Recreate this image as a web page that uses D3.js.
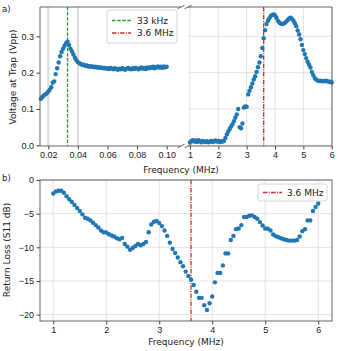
<!DOCTYPE html>
<html>
<head>
<meta charset="utf-8">
<script src="https://cdn.jsdelivr.net/npm/d3@7"></script>
<style>
  html, body { margin: 0; padding: 0; background: #fff; }
  svg { display: block; font-family: "DejaVu Sans", sans-serif; }
  .tick text { font-size: 9px; fill: #222; }
  .tick line { stroke: #444; }
</style>
</head>
<body>
<svg id="chart" width="339" height="351"></svg>
<script>
// --- data ---
// top-left: low frequency sweep (kHz -> Vpp)
const lowFreqKHz = [15,16,17,18,19,20,21,22,23,24,25,26,27,28,29,30,31,32,33,34,35,36,37,38,39,40,
  41,42,43,44,45,46,47,48,49,50,51,52,53,54,55,56,57,58,59,60,61,62,63,64,65,66,67,68,69,70,
  71,72,73,74,75,76,77,78,79,80,81,82,83,84,85,86,87,88,89,90,91,92,93,94,95,96,97,98,99,100];
const lowVolt = [0.128,0.133,0.137,0.140,0.143,0.148,0.153,0.160,0.172,0.176,0.196,0.212,0.228,0.245,0.257,0.266,0.274,0.281,0.285,0.276,
  0.266,0.258,0.250,0.241,0.234,0.229,0.226,0.224,0.221,0.222,0.219,0.220,0.217,0.218,0.216,0.217,0.215,0.216,0.214,0.215,
  0.213,0.214,0.212,0.213,0.211,0.212,0.210,0.213,0.211,0.209,0.212,0.210,0.208,0.211,0.209,0.212,0.210,0.208,0.211,0.213,
  0.210,0.209,0.212,0.210,0.213,0.211,0.209,0.212,0.214,0.211,0.213,0.210,0.214,0.212,0.215,0.213,0.216,0.212,0.215,0.217,
  0.214,0.216,0.213,0.217,0.215,0.216];

// MHz sweep shared by top-right and bottom panels
const freqMHz = [1.00,1.05,1.10,1.15,1.20,1.25,1.30,1.35,1.40,1.45,1.50,1.55,1.60,1.65,1.70,1.75,1.80,1.85,1.90,1.95,
  2.00,2.05,2.10,2.15,2.20,2.25,2.30,2.35,2.40,2.45,2.50,2.55,2.60,2.65,2.70,2.75,2.80,2.85,2.90,2.95,
  3.00,3.05,3.10,3.15,3.20,3.25,3.30,3.35,3.40,3.45,3.50,3.55,3.60,3.65,3.70,3.75,3.80,3.85,3.90,3.95,
  4.00,4.05,4.10,4.15,4.20,4.25,4.30,4.35,4.40,4.45,4.50,4.55,4.60,4.65,4.70,4.75,4.80,4.85,4.90,4.95,
  5.00,5.05,5.10,5.15,5.20,5.25,5.30,5.35,5.40,5.45,5.50,5.55,5.60,5.65,5.70,5.75,5.80,5.85,5.90,5.95,6.00];
const highVolt = [0.008,0.012,0.014,0.010,0.013,0.009,0.014,0.011,0.008,0.012,0.010,0.009,0.011,0.008,0.010,0.012,0.009,0.011,0.013,0.010,
  0.012,0.009,0.011,0.010,0.012,0.020,0.030,0.038,0.045,0.052,0.058,0.066,0.076,0.085,0.100,0.050,0.047,0.060,0.104,0.107,
  0.106,0.140,0.150,0.160,0.170,0.181,0.190,0.202,0.215,0.228,0.245,0.268,0.295,0.317,0.334,0.343,0.350,0.356,0.359,0.360,
  0.358,0.351,0.343,0.338,0.335,0.334,0.335,0.337,0.341,0.345,0.349,0.351,0.348,0.343,0.336,0.328,0.316,0.305,0.292,0.276,
  0.262,0.251,0.240,0.230,0.222,0.214,0.202,0.193,0.185,0.181,0.178,0.177,0.178,0.176,0.177,0.176,0.178,0.176,0.175,0.175,0.173];
const returnLoss = [-2.0,-1.7,-1.6,-1.6,-1.9,-2.4,-2.85,-3.25,-3.7,-4.15,-4.6,-5.1,-5.6,-5.75,-6.0,-6.35,-6.7,-7.05,-7.5,-7.75,
  -7.8,-8.05,-8.25,-8.4,-8.65,-8.8,-8.6,-9.5,-9.9,-10.35,-10.1,-9.8,-9.5,-9.7,-9.5,-9.2,-7.75,-6.6,-6.2,-6.1,
  -6.4,-6.85,-7.5,-8.3,-9.3,-10.25,-10.85,-11.5,-12.2,-12.8,-13.6,-14.25,-14.8,-15.6,-16.6,-17.5,-17.5,-18.6,-19.3,-18.3,
  -17.3,-15.2,-13.8,-13.8,-12.7,-10.9,-10.9,-8.9,-8.3,-7.3,-7.2,-6.7,-5.5,-5.5,-5.3,-5.25,-5.5,-5.75,-6.25,-6.75,
  -7.2,-7.25,-7.5,-8.1,-8.35,-8.5,-8.65,-8.8,-8.9,-9.0,-9.0,-9.0,-8.9,-8.4,-7.6,-7.3,-6.0,-6.0,-4.6,-4.0,-3.5];

const lowTicks = [0.02, 0.04, 0.06, 0.08, 0.10];
const highTicks = [1, 2, 3, 4, 5, 6];
const voltTicks = [0.0, 0.1, 0.2, 0.3];
const lossTicks = [0, -5, -10, -15, -20];
const markerKHz = 33;      // green dashed
const markerMHz = 3.6;     // red dash-dot

const blue = "#1f77b4", green = "#2ca02c", red = "#d62728";
const gridColor = "#dcdcdc", spineColor = "#555";

const svg = d3.select("#chart");

// ------------------------------------------------------------
// top panel (broken x axis)
// ------------------------------------------------------------
const topP = { y0: 7, y1: 146 };
const xL = d3.scaleLinear().domain([0.0144, 0.1097]).range([40, 181]);
const xR = d3.scaleLinear().domain([0.93, 6.01]).range([188, 332]);
const yT = d3.scaleLinear().domain([-0.002, 0.3807]).range([topP.y1, topP.y0]);

// grid
const gT = svg.append("g");
gT.selectAll("line.vl").data([0.02, 0.04]).enter().append("line")
  .attr("x1", d => xL(d)).attr("x2", d => xL(d))
  .attr("y1", topP.y0).attr("y2", topP.y1)
  .attr("stroke", gridColor).attr("stroke-width", 2.2);
gT.selectAll("line.vr").data(highTicks).enter().append("line")
  .attr("x1", d => xR(d)).attr("x2", d => xR(d))
  .attr("y1", topP.y0).attr("y2", topP.y1)
  .attr("stroke", gridColor).attr("stroke-width", 0.8);
gT.selectAll("line.hr").data(voltTicks).enter().append("line")
  .attr("x1", xR.range()[0]).attr("x2", xR.range()[1])
  .attr("y1", d => yT(d)).attr("y2", d => yT(d))
  .attr("stroke", gridColor).attr("stroke-width", 0.8);

// vertical markers
svg.append("line")
  .attr("x1", xL(markerKHz / 1000)).attr("x2", xL(markerKHz / 1000))
  .attr("y1", topP.y0).attr("y2", topP.y1)
  .attr("stroke", green).attr("stroke-width", 1.3).attr("stroke-dasharray", "3.5,1.6");
svg.append("line")
  .attr("x1", xR(markerMHz)).attr("x2", xR(markerMHz))
  .attr("y1", topP.y0).attr("y2", topP.y1)
  .attr("stroke", red).attr("stroke-width", 1.3).attr("stroke-dasharray", "4.5,1.3,1,1.3");

// points
svg.append("g").selectAll("circle")
  .data(lowFreqKHz.map((f, i) => ({ f: f / 1000, v: lowVolt[i] })))
  .enter().append("circle")
  .attr("cx", d => xL(d.f)).attr("cy", d => yT(d.v)).attr("r", 2.2)
  .attr("fill", blue);
svg.append("g").selectAll("circle")
  .data(freqMHz.map((f, i) => ({ f, v: highVolt[i] })))
  .enter().append("circle")
  .attr("cx", d => xR(d.f)).attr("cy", d => yT(d.v)).attr("r", 2.2)
  .attr("fill", blue);

// axes
svg.append("g")
  .attr("transform", `translate(0,${topP.y1})`)
  .call(d3.axisBottom(xL).tickValues(lowTicks).tickFormat(d3.format(".2f")).tickSize(3.5).tickPadding(2.5))
  .call(g => g.select(".domain").remove());
svg.append("g")
  .attr("transform", `translate(0,${topP.y1})`)
  .call(d3.axisBottom(xR).tickValues(highTicks).tickFormat(d3.format("d")).tickSize(3.5).tickPadding(2.5))
  .call(g => g.select(".domain").remove());
svg.append("g")
  .attr("transform", `translate(40,0)`)
  .call(d3.axisLeft(yT).tickValues(voltTicks).tickFormat(d3.format(".1f")).tickSize(3.5).tickPadding(2.5))
  .call(g => g.select(".domain").remove());

// spines
const spT = svg.append("g").attr("stroke", spineColor).attr("stroke-width", 0.9).attr("fill", "none");
spT.append("path").attr("d", `M${xL.range()[1]},${topP.y0}H40V${topP.y1}H${xL.range()[1]}`);
spT.append("path").attr("d", `M${xR.range()[0]},${topP.y0}H332V${topP.y1}H${xR.range()[0]}`);
// break marks
[xL.range()[1], xR.range()[0]].forEach(x => {
  [topP.y0, topP.y1].forEach(y => {
    spT.append("line").attr("x1", x - 3.5).attr("y1", y + 1.8).attr("x2", x + 3.5).attr("y2", y - 1.8);
  });
});

// legend
const lg = svg.append("g");
lg.append("rect").attr("x", 107).attr("y", 10).attr("width", 70).attr("height", 33).attr("rx", 2)
  .attr("fill", "#fff").attr("fill-opacity", 0.85).attr("stroke", "#ccc").attr("stroke-width", 0.8);
lg.append("line").attr("x1", 112).attr("x2", 131).attr("y1", 20.5).attr("y2", 20.5)
  .attr("stroke", green).attr("stroke-width", 1.3).attr("stroke-dasharray", "3.5,1.6");
lg.append("line").attr("x1", 112).attr("x2", 131).attr("y1", 33).attr("y2", 33)
  .attr("stroke", red).attr("stroke-width", 1.3).attr("stroke-dasharray", "4.5,1.3,1,1.3");
lg.append("text").attr("x", 137).attr("y", 23.7).attr("font-size", 9).attr("fill", "#222").text("33 kHz");
lg.append("text").attr("x", 137).attr("y", 36.2).attr("font-size", 9).attr("fill", "#222").text("3.6 MHz");

// labels
svg.append("text").attr("transform", "translate(16,77) rotate(-90)").attr("text-anchor", "middle")
  .attr("font-size", 9).attr("fill", "#222").text("Voltage at Trap (Vpp)");
svg.append("text").attr("x", 181).attr("y", 173).attr("text-anchor", "middle")
  .attr("font-size", 9).attr("fill", "#222").text("Frequency (MHz)");
svg.append("text").attr("x", 2).attr("y", 12).attr("font-size", 8.5).attr("fill", "#222").text("a)");

// ------------------------------------------------------------
// bottom panel: return loss
// ------------------------------------------------------------
const botP = { x0: 40, x1: 332, y0: 180, y1: 321 };
const xB = d3.scaleLinear().domain([0.75, 6.26]).range([botP.x0, botP.x1]);
const yB = d3.scaleLinear().domain([-20.94, 0]).range([botP.y1, botP.y0]);

const gB = svg.append("g").attr("stroke", gridColor).attr("stroke-width", 0.8);
gB.selectAll("line.v").data(highTicks).enter().append("line")
  .attr("x1", d => xB(d)).attr("x2", d => xB(d)).attr("y1", botP.y0).attr("y2", botP.y1);
gB.selectAll("line.h").data(lossTicks).enter().append("line")
  .attr("x1", botP.x0).attr("x2", botP.x1).attr("y1", d => yB(d)).attr("y2", d => yB(d));

svg.append("line")
  .attr("x1", xB(markerMHz)).attr("x2", xB(markerMHz))
  .attr("y1", botP.y0).attr("y2", botP.y1)
  .attr("stroke", red).attr("stroke-width", 1.3).attr("stroke-dasharray", "4.5,1.3,1,1.3");

svg.append("g").selectAll("circle")
  .data(freqMHz.map((f, i) => ({ f, v: returnLoss[i] })))
  .enter().append("circle")
  .attr("cx", d => xB(d.f)).attr("cy", d => yB(d.v)).attr("r", 2.2)
  .attr("fill", blue);

svg.append("g")
  .attr("transform", `translate(0,${botP.y1})`)
  .call(d3.axisBottom(xB).tickValues(highTicks).tickFormat(d3.format("d")).tickSize(3.5).tickPadding(2.5))
  .call(g => g.select(".domain").remove());
svg.append("g")
  .attr("transform", `translate(${botP.x0},0)`)
  .call(d3.axisLeft(yB).tickValues(lossTicks).tickFormat(d => d < 0 ? "\u2212" + Math.abs(d) : d).tickSize(3.5).tickPadding(2.5))
  .call(g => g.select(".domain").remove());

svg.append("rect").attr("x", botP.x0).attr("y", botP.y0)
  .attr("width", botP.x1 - botP.x0).attr("height", botP.y1 - botP.y0)
  .attr("fill", "none").attr("stroke", spineColor).attr("stroke-width", 0.9);

const lg2 = svg.append("g");
lg2.append("rect").attr("x", 258).attr("y", 184).attr("width", 69).attr("height", 17).attr("rx", 2)
  .attr("fill", "#fff").attr("fill-opacity", 0.85).attr("stroke", "#ccc").attr("stroke-width", 0.8);
lg2.append("line").attr("x1", 263).attr("x2", 282).attr("y1", 192.5).attr("y2", 192.5)
  .attr("stroke", red).attr("stroke-width", 1.3).attr("stroke-dasharray", "4.5,1.3,1,1.3");
lg2.append("text").attr("x", 287).attr("y", 195.7).attr("font-size", 9).attr("fill", "#222").text("3.6 MHz");

svg.append("text").attr("transform", "translate(10,250) rotate(-90)").attr("text-anchor", "middle")
  .attr("font-size", 9).attr("fill", "#222").text("Return Loss (S11 dB)");
svg.append("text").attr("x", 186).attr("y", 345).attr("text-anchor", "middle")
  .attr("font-size", 9).attr("fill", "#222").text("Frequency (MHz)");
svg.append("text").attr("x", 2).attr("y", 181).attr("font-size", 8.5).attr("fill", "#222").text("b)");
</script>
</body>
</html>
